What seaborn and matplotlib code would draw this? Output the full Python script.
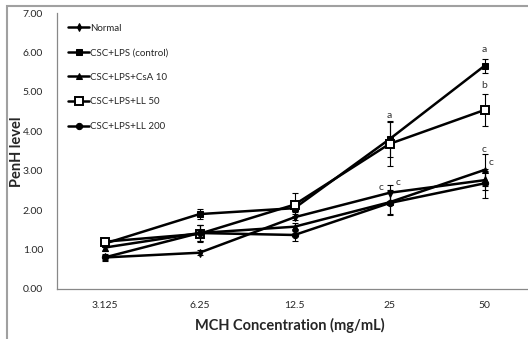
import matplotlib
matplotlib.use("Agg")
import matplotlib.pyplot as plt
import matplotlib.patches as patches
import seaborn as sns
import pandas as pd

# Data
conc = ["3.125", "6.25", "12.5", "25", "50"]
groups = ["Normal", "CSC+LPS (control)", "CSC+LPS+CsA 10", "CSC+LPS+LL 50", "CSC+LPS+LL 200"]

normal = [0.80, 0.92, 1.82, 2.44, 2.76]
control = [1.15, 1.90, 2.05, 3.80, 5.66]
csa10 = [1.05, 1.42, 1.58, 2.20, 3.02]
ll50 = [1.20, 1.40, 2.14, 3.68, 4.54]
ll200 = [0.80, 1.42, 1.37, 2.18, 2.68]

normal_err = [0.06, 0.06, 0.08, 0.20, 0.24]
control_err = [0.08, 0.12, 0.10, 0.45, 0.18]
csa10_err = [0.08, 0.20, 0.10, 0.30, 0.40]
ll50_err = [0.08, 0.22, 0.29, 0.55, 0.41]
ll200_err = [0.08, 0.20, 0.15, 0.30, 0.36]

values = [normal, control, csa10, ll50, ll200]
errors = [normal_err, control_err, csa10_err, ll50_err, ll200_err]

df = pd.DataFrame({
    "conc": conc * len(groups),
    "penh": sum(values, []),
    "err": sum(errors, []),
    "group": [g for g in groups for _ in conc],
})

styles = {
    "Normal": dict(marker="d", markersize=4, markerfacecolor="black"),
    "CSC+LPS (control)": dict(marker="s", markersize=4.5, markerfacecolor="black"),
    "CSC+LPS+CsA 10": dict(marker="^", markersize=4.5, markerfacecolor="black"),
    "CSC+LPS+LL 50": dict(marker="s", markersize=5.5, markerfacecolor="white", markeredgewidth=1.4),
    "CSC+LPS+LL 200": dict(marker="o", markersize=4.5, markerfacecolor="black"),
}

sns.set_style("white")
plt.rcParams["font.family"] = ["Lato", "DejaVu Sans"]

fig = plt.figure(figsize=(5.28, 3.39), dpi=100)
ax = fig.add_axes([57 / 528, 1 - 289 / 339, (532 - 57) / 528, (289 - 13) / 339])

for g in groups:
    sub = df[df["group"] == g]
    ax.errorbar(sub["conc"], sub["penh"], yerr=sub["err"], fmt="none",
                ecolor="black", elinewidth=0.8, capsize=2.5, capthick=0.8, zorder=2)
    sns.lineplot(data=sub, x="conc", y="penh", ax=ax, color="black", linewidth=1.8,
                 markeredgecolor="black", label=g, zorder=3, **styles[g])

# significance letters
letters = [
    (4, 6.07, "a"), (4, 5.15, "b"), (4, 3.53, "c"), (4.07, 3.22, "c"),
    (3, 4.39, "a"), (2.91, 2.57, "c"), (3.09, 2.70, "c"),
]
for x, y, s in letters:
    ax.text(x, y, s, ha="center", va="center", fontsize=7.5, color="#333333")

ax.set_xlim(-0.5, 4.5)
ax.set_ylim(0, 7)
ax.set_yticks([0, 1, 2, 3, 4, 5, 6, 7])
ax.set_yticklabels([f"{v:.2f}" for v in range(8)])
ax.set_xticks([-0.5, 0.5, 1.5, 2.5, 3.5, 4.5], minor=False)
ax.set_xticklabels([])
ax.set_xticks(range(5), minor=True)
ax.set_xticklabels(conc, minor=True)
ax.tick_params(axis="x", which="minor", length=0, pad=9, labelsize=7.5)
ax.tick_params(axis="x", which="major", length=4, width=0.8, color="#888888", direction="out")
ax.tick_params(axis="y", length=4, width=0.8, color="#888888", direction="out", labelsize=7.5, pad=6)

for side in ["top", "right"]:
    ax.spines[side].set_visible(False)
for side in ["left", "bottom"]:
    ax.spines[side].set_color("#888888")
    ax.spines[side].set_linewidth(0.9)

ax.set_xlabel("MCH Concentration (mg/mL)", fontsize=10.5, fontweight="bold")
ax.xaxis.set_label_coords((290 - 57) / 475, -(318 - 289) / 276)
ax.set_ylabel("PenH level", fontsize=10.5, fontweight="bold")
ax.yaxis.set_label_coords(-(57 - 24) / 475, 0.5 + (150 - 151) / 276)

ax.legend(loc="upper left", bbox_to_anchor=(0.015, 0.975), frameon=False, fontsize=7,
          labelspacing=1.6, handlelength=2.2, handletextpad=0.1, borderaxespad=0)

fig.patches.append(patches.Rectangle((7 / 528, -0.1), 1.2, 0.1 + (339 - 6) / 339,
                                     transform=fig.transFigure, fill=False,
                                     edgecolor="#a0a0a0", linewidth=1.5))

fig.savefig("out.png", dpi=100)
